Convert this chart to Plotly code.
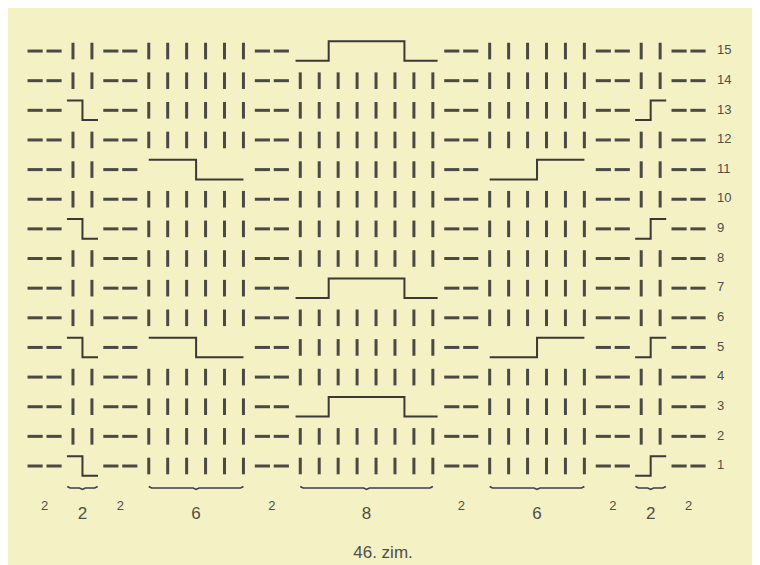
import plotly.graph_objects as go

# ---------------- data ----------------
rows = list(range(1, 16))
group_types = ["P", "K", "P", "K", "P", "K", "P", "K", "P", "K", "P"]
group_widths = [2, 2, 2, 6, 2, 8, 2, 6, 2, 2, 2]
# cable rows per group index
cable_rows = {1: [1, 5, 9, 13], 3: [5, 11], 5: [3, 7, 15], 7: [5, 11], 9: [1, 5, 9, 13]}
cable_kind = {1: "down", 3: "down", 5: "arch", 7: "up", 9: "up"}
bottom_labels = ["2", "2", "2", "6", "2", "8", "2", "6", "2", "2", "2"]
row_labels = [str(r) for r in rows]
caption = "46. zim."

# ---------------- style ----------------
INK = "#4a4945"
CABLE_INK = "#3a3936"
TEXT = "#4f4e49"
BG = "#f4f1c5"
ext = {1: 0.32, 3: 0.0, 5: 0.25, 7: 0.0, 9: 0.32}
brace_ext = {1: 0.3, 3: 0.0, 5: 0.0, 7: 0.0, 9: 0.3}

# group start columns
starts = []
c = 1
for w in group_widths:
    starts.append(c)
    c += w
ncols = c - 1

dash_x, dash_y = [], []
bar_x, bar_y = [], []
cab_x, cab_y = [], []
brace_x, brace_y = [], []

for r in rows:
    for g, (t, w, s) in enumerate(zip(group_types, group_widths, starts)):
        c0, c1 = s, s + w - 1
        if t == "P":
            for col in range(c0, c1 + 1):
                dash_x += [col - 0.4, col + 0.4, None]
                dash_y += [r, r, None]
        elif g in cable_rows and r in cable_rows[g]:
            e = ext[g]
            hi, lo = r + 0.33, r - 0.33
            mid = (c0 + c1) / 2
            a, b = c0 - e, c1 + e
            k = cable_kind[g]
            if k == "down":
                cab_x += [a, mid, mid, b, None]
                cab_y += [hi, hi, lo, lo, None]
            elif k == "up":
                cab_x += [a, mid, mid, b, None]
                cab_y += [lo, lo, hi, hi, None]
            else:
                m1, m2 = c0 + 1.5, c1 - 1.5
                cab_x += [a, m1, m1, m2, m2, b, None]
                cab_y += [lo, lo, hi, hi, lo, lo, None]
        else:
            for col in range(c0, c1 + 1):
                bar_x += [col, col, None]
                bar_y += [r - 0.28, r + 0.28, None]

# braces under knit groups
yb = 0.26
for g, (t, w, s) in enumerate(zip(group_types, group_widths, starts)):
    if t != "K":
        continue
    c0, c1 = s, s + w - 1
    a, b = c0 - brace_ext[g], c1 + brace_ext[g]
    mid = (c0 + c1) / 2
    brace_x += [a, a + 0.15, mid - 0.15, mid, mid + 0.15, b - 0.15, b, None]
    brace_y += [yb + 0.05, yb, yb, yb - 0.05, yb, yb, yb + 0.05, None]

fig = go.Figure()
fig.add_trace(go.Scatter(x=dash_x, y=dash_y, mode="lines",
                         line=dict(color=INK, width=3), hoverinfo="skip"))
fig.add_trace(go.Scatter(x=bar_x, y=bar_y, mode="lines",
                         line=dict(color=INK, width=3), hoverinfo="skip"))
fig.add_trace(go.Scatter(x=cab_x, y=cab_y, mode="lines",
                         line=dict(color=CABLE_INK, width=2), hoverinfo="skip"))
fig.add_trace(go.Scatter(x=brace_x, y=brace_y, mode="lines",
                         line=dict(color="#3d3d50", width=1.6), hoverinfo="skip"))

# row labels
fig.add_trace(go.Scatter(x=[ncols + 1.0] * len(rows), y=rows, mode="text",
                         text=row_labels, textposition="middle right",
                         textfont=dict(family="Liberation Sans", size=13, color=TEXT),
                         hoverinfo="skip"))

# bottom labels
small_x, small_t, big_x, big_t = [], [], [], []
for t, w, s, lab in zip(group_types, group_widths, starts, bottom_labels):
    centre = s + (w - 1) / 2
    if t == "P":
        small_x.append(centre); small_t.append(lab)
    else:
        big_x.append(centre); big_t.append(lab)
fig.add_trace(go.Scatter(x=small_x, y=[-0.38] * len(small_x), mode="text", text=small_t,
                         textfont=dict(family="Liberation Sans", size=13, color=TEXT),
                         hoverinfo="skip"))
fig.add_trace(go.Scatter(x=big_x, y=[-0.65] * len(big_x), mode="text", text=big_t,
                         textfont=dict(family="Liberation Sans", size=17, color=TEXT),
                         hoverinfo="skip"))
fig.add_trace(go.Scatter(x=[19.37], y=[-1.97], mode="text", text=[caption],
                         textfont=dict(family="Liberation Sans", size=17, color=TEXT),
                         hoverinfo="skip"))

fig.update_layout(
    width=744, height=557,
    margin=dict(l=0, r=0, t=0, b=0),
    paper_bgcolor=BG, plot_bgcolor=BG,
    showlegend=False,
    xaxis=dict(range=[-0.431, 38.85], visible=False, fixedrange=True),
    yaxis=dict(range=[-2.34, 16.452], visible=False, fixedrange=True),
)

fig.write_html("out.html")
